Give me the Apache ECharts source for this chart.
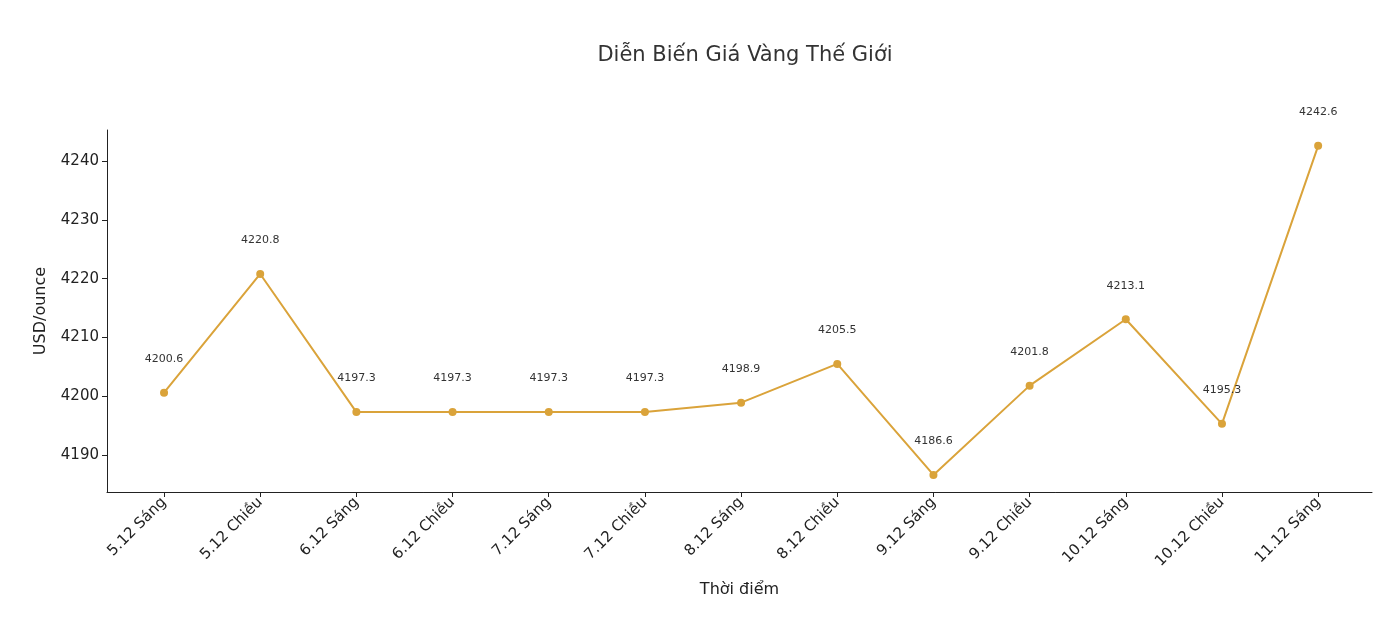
<!DOCTYPE html><html><head><meta charset="utf-8"><script src="https://cdn.jsdelivr.net/npm/echarts@6/dist/echarts.min.js"></script></head><body style="margin:0"><div id="c" style="width:1374px;height:642px"></div><script>
const categories=["5.12 Sáng","5.12 Chiều","6.12 Sáng","6.12 Chiều","7.12 Sáng","7.12 Chiều","8.12 Sáng","8.12 Chiều","9.12 Sáng","9.12 Chiều","10.12 Sáng","10.12 Chiều","11.12 Sáng"];
const values=[4200.6,4220.8,4197.3,4197.3,4197.3,4197.3,4198.9,4205.5,4186.6,4201.8,4213.1,4195.3,4242.6];
const yTicks=[4190,4200,4210,4220,4230,4240];
const ch=echarts.init(document.getElementById('c'));
const ax={color:'#222',fontSize:15,fontFamily:'DejaVu Sans'};
ch.setOption({animation:false,
title:{text:'Diễn Biến Giá Vàng Thế Giới',left:740,textAlign:'center',top:40,textStyle:{fontSize:21,fontWeight:'normal',color:'#333',fontFamily:'DejaVu Sans'}},
grid:{left:107,right:2,top:130,bottom:150},
xAxis:{type:'value',min:-0.593,max:12.56,name:'Thời điểm',nameLocation:'middle',nameGap:90,nameTextStyle:{fontSize:16,color:'#222',fontFamily:'DejaVu Sans'},
axisLine:{onZero:false,lineStyle:{color:'#222'}},axisTick:{customValues:categories.map((c,i)=>i),length:5,lineStyle:{color:'#222'}},splitLine:{show:false},
axisLabel:Object.assign({customValues:categories.map((c,i)=>i),rotate:45,formatter:v=>categories[Math.round(v)]},ax)},
yAxis:{type:'value',min:4183.7,max:4245.3,name:'USD/ounce',nameLocation:'middle',nameGap:58,nameTextStyle:{fontSize:16,color:'#222',fontFamily:'DejaVu Sans'},
axisLine:{show:true,onZero:false,lineStyle:{color:'#222'}},axisTick:{show:true,customValues:yTicks,length:5,lineStyle:{color:'#222'}},splitLine:{show:false},
axisLabel:Object.assign({customValues:yTicks,formatter:v=>String(v)},ax)},
series:[{type:'line',data:values.map((v,i)=>[i,v]),symbol:'circle',symbolSize:8,itemStyle:{color:'#DAA33A'},lineStyle:{color:'#DAA33A',width:2},
label:{show:true,position:'top',distance:24,fontSize:11,color:'#333',fontFamily:'DejaVu Sans',formatter:p=>p.value[1].toFixed(1)}}]});
</script></body></html>
